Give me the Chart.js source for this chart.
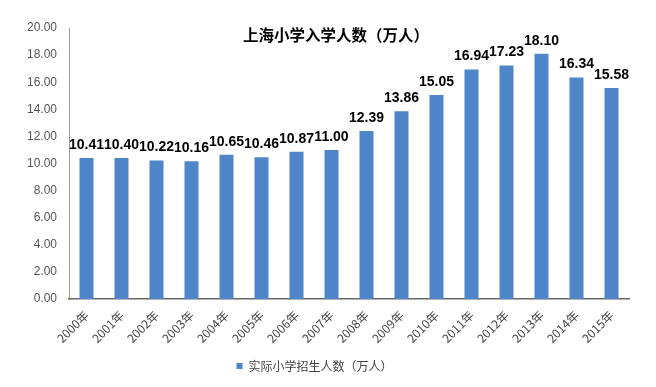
<!DOCTYPE html>
<html>
<head>
<meta charset="utf-8">
<script src="https://cdn.jsdelivr.net/npm/chart.js@4"></script>
<style>
  html, body { margin: 0; padding: 0; background: #fff; }
  #wrap { width: 656px; height: 387px; }
</style>
</head>
<body>
<div id="wrap"><canvas id="myChart" width="656" height="387"></canvas></div>
<script>
const years = ['2000年','2001年','2002年','2003年','2004年','2005年','2006年','2007年',
               '2008年','2009年','2010年','2011年','2012年','2013年','2014年','2015年'];
const enrolment = [10.41, 10.40, 10.22, 10.16, 10.65, 10.46, 10.87, 11.00,
                   12.39, 13.86, 15.05, 16.94, 17.23, 18.10, 16.34, 15.58];
const seriesName = '实际小学招生人数（万人）';
const chartTitle = '上海小学入学人数（万人）';

const FONT = '"Liberation Sans", Arial, "Noto Sans CJK SC", sans-serif';

// value labels above the bars + title inside the plot
const barLabels = {
    id: 'barLabels',
    afterDatasetsDraw(chart) {
        const ctx = chart.ctx;
        const meta = chart.getDatasetMeta(0);
        ctx.save();
        ctx.font = 'bold 14px ' + FONT;
        ctx.fillStyle = '#000';
        ctx.textAlign = 'center';
        ctx.textBaseline = 'bottom';
        meta.data.forEach((bar, i) => {
            ctx.fillText(enrolment[i].toFixed(2), bar.x, bar.y - 6);
        });
        ctx.font = 'bold 15.5px "Noto Sans CJK SC", sans-serif';
        ctx.textBaseline = 'middle';
        ctx.fillText(chartTitle, 336, 35);
        ctx.restore();
    }
};

const ctx1 = document.getElementById('myChart');
const myChart = new Chart(ctx1, {
    type: 'bar',
    data: {
        labels: years,
        datasets: [{
            label: seriesName,
            data: enrolment,
            backgroundColor: '#4F86CA',
            barPercentage: 0.4,
            categoryPercentage: 1.0
        }]
    },
    options: {
        responsive: false,
        animation: false,
        layout: { padding: { top: 28, right: 27, left: 0, bottom: 5 } },
        plugins: {
            legend: {
                position: 'bottom',
                labels: {
                    boxWidth: 6,
                    boxHeight: 6,
                    color: '#444',
                    font: { size: 12, family: '"Noto Sans CJK SC", sans-serif' }
                }
            },
            tooltip: { enabled: false }
        },
        scales: {
            y: {
                min: 0,
                max: 20,
                ticks: {
                    stepSize: 2,
                    color: '#555',
                    font: { size: 12, family: FONT },
                    padding: 12,
                    callback: v => v.toFixed(2)
                },
                grid: { display: false, drawTicks: false },
                border: { color: '#999' },
                afterFit: s => { s.width = 69; }
            },
            x: {
                ticks: {
                    minRotation: 45,
                    maxRotation: 45,
                    color: '#444',
                    font: { size: 12, family: '"Noto Sans CJK SC", sans-serif' },
                    padding: 9
                },
                grid: { display: false, drawTicks: false },
                border: { color: '#666', width: 1.5 },
                afterFit: s => { s.height = 51; }
            }
        }
    },
    plugins: [barLabels]
});
</script>
</body>
</html>
